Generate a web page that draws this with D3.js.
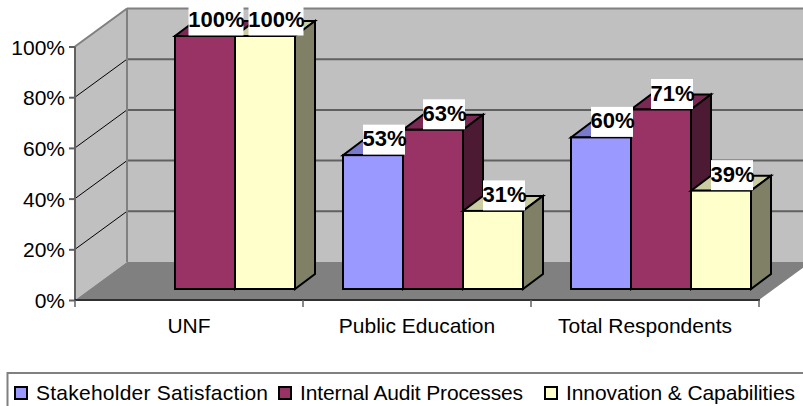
<!DOCTYPE html>
<html><head><meta charset="utf-8">
<script src="https://cdn.jsdelivr.net/npm/d3@7/dist/d3.min.js"></script>
<style>html,body{margin:0;padding:0;background:#fff;overflow:hidden}svg{display:block}text{font-family:"Liberation Sans",Arial,sans-serif;fill:#000}</style>
</head><body><svg id="c" width="803" height="406"></svg>
<script>
const categories = ["UNF","Public Education","Total Respondents"];
const seriesNames = ["Stakeholder Satisfaction","Internal Audit Processes","Innovation & Capabilities"];
const stakeholder = [null,53,60];
const internalAudit = [100,63,71];
const innovation = [100,31,39];
const yTicks = [0,20,40,60,80,100];
const seriesValues = [stakeholder,internalAudit,innovation];
const faceColors = ["#9999ff","#993366","#ffffcc"];
const topColors = ["#7a7acc","#7a2952","#cccca3"];
const sideColors = ["#4d4d80","#4d1a33","#808066"];

const svg = d3.select("#c");
const x = d3.scaleBand().domain(categories).range([75,759]);
const sx = d3.scaleBand().domain(seriesNames).range([40,220]);
const y = d3.scaleLinear().domain([0,100]).range([300,46.5]);
const wallDx = 52, wallDy = -38, barDx = 20, barDy = -15, barLift = 11;
const poly = pts => pts.map(p=>p.join(",")).join(" ");
const right = 811;

// walls & floor
svg.append("polygon").attr("points",poly([[75,y(0)],[75+wallDx,y(0)+wallDy],[75+wallDx,y(100)+wallDy],[75,y(100)]])).attr("fill","#c0c0c0");
svg.append("polygon").attr("points",poly([[75+wallDx,y(0)+wallDy],[right,y(0)+wallDy],[right,y(100)+wallDy],[75+wallDx,y(100)+wallDy]])).attr("fill","#c0c0c0");
svg.append("polygon").attr("points",poly([[75,y(0)],[759,y(0)],[right,y(0)+wallDy],[75+wallDx,y(0)+wallDy]])).attr("fill","#808080");
// gridlines
const grid = yTicks.filter(t=>t>0);
svg.selectAll(".gs").data(grid).join("line").attr("x1",75).attr("y1",y).attr("x2",75+wallDx).attr("y2",d=>y(d)+wallDy).attr("stroke",d=>d===100?"#808080":"#000").attr("stroke-width",d=>d===100?2:1);
svg.selectAll(".gb").data(grid).join("line").attr("x1",75+wallDx).attr("x2",right).attr("y1",d=>y(d)+wallDy).attr("y2",d=>y(d)+wallDy).attr("stroke",d=>d===100?"#808080":"#606060").attr("stroke-width",2);
svg.append("line").attr("x1",75+wallDx).attr("x2",75+wallDx).attr("y1",y(100)+wallDy).attr("y2",y(0)+wallDy).attr("stroke","#808080").attr("stroke-width",2);
svg.append("line").attr("x1",75).attr("x2",75).attr("y1",y(100)).attr("y2",y(0)).attr("stroke","#606060").attr("stroke-width",2);
svg.append("line").attr("x1",74).attr("x2",760).attr("y1",y(0)).attr("y2",y(0)).attr("stroke","#303030").attr("stroke-width",2);

// axes
const axY = svg.append("g").attr("transform","translate(75,0)").call(d3.axisLeft(y).tickValues(yTicks).tickFormat(d=>d+"%").tickSize(6).tickPadding(4));
axY.select(".domain").remove();
axY.selectAll("line").attr("stroke","#606060").attr("stroke-width",2);
axY.selectAll("text").attr("font-size",21).attr("dy","0.36em");
const axX = svg.append("g").attr("transform","translate(0,300)").call(d3.axisBottom(x).tickSize(0).tickPadding(18));
axX.select(".domain").remove();
axX.selectAll("text").attr("font-size",21);
const edges = categories.map(c=>x(c)).concat([x.range()[1]]);
svg.selectAll(".xt").data(edges).join("line").attr("x1",d=>d).attr("x2",d=>d).attr("y1",300).attr("y2",307).attr("stroke","#606060").attr("stroke-width",1.5);

// bars
const bars = [];
seriesNames.forEach((s,i)=>categories.forEach((c,j)=>{
  const v = seriesValues[i][j];
  if (v!=null) bars.push({s,i,c,v});
}));
const gb = svg.selectAll(".bar").data(bars).join("g").attr("class","bar");
const st = {stroke:"#000","stroke-width":2,"stroke-linejoin":"miter"};
function applyStroke(sel){ Object.entries(st).forEach(([k,v])=>sel.attr(k,v)); return sel; }
gb.each(function(d){
  const g = d3.select(this);
  const x0 = x(d.c)+sx(d.s), w = sx.bandwidth(), b = y(0)-barLift, t = y(d.v)-barLift+0.5;
  applyStroke(g.append("polygon").attr("points",poly([[x0,t],[x0+w,t],[x0+w+barDx,t+barDy],[x0+barDx,t+barDy]])).attr("fill",topColors[d.i]));
  applyStroke(g.append("polygon").attr("points",poly([[x0+w,t],[x0+w+barDx,t+barDy],[x0+w+barDx,b+barDy],[x0+w,b]])).attr("fill",sideColors[d.i]));
  applyStroke(g.append("rect").attr("x",x0).attr("y",t).attr("width",w).attr("height",b-t).attr("fill",faceColors[d.i]));
});
// data labels
const gl = svg.selectAll(".lab").data(bars).join("g").attr("class","lab");
gl.each(function(d){
  const g = d3.select(this);
  const cx = x(d.c)+sx(d.s)+sx.bandwidth()/2+11, t = y(d.v)-barLift;
  const lw = d.v===100?55:42;
  g.append("rect").attr("x",cx-lw/2).attr("y",t-30).attr("width",lw).attr("height",30).attr("fill","#fff");
  g.append("text").attr("x",cx+0.5).attr("y",t-8.5).attr("text-anchor","middle").attr("font-size",22).attr("font-weight","bold").text(d.v+"%");
});

// legend
svg.append("rect").attr("x",7.5).attr("y",373).attr("width",810).attr("height",50).attr("fill","#fff").attr("stroke","#808080").attr("stroke-width",2);
const legX = d3.scaleOrdinal().domain(seriesNames).range([15,279,545]);
const legW = d3.scaleOrdinal().domain(seriesNames).range([232,223,229]);
const lg = svg.selectAll(".leg").data(seriesNames).join("g").attr("class","leg");
lg.append("rect").attr("x",d=>legX(d)).attr("y",387).attr("width",12).attr("height",12).attr("fill",(d,i)=>faceColors[i]).attr("stroke","#000").attr("stroke-width",2);
lg.append("text").attr("x",d=>legX(d)+21).attr("y",399.5).attr("font-size",21).attr("textLength",d=>legW(d)).attr("lengthAdjust","spacing").text(d=>d);
</script></body></html>
